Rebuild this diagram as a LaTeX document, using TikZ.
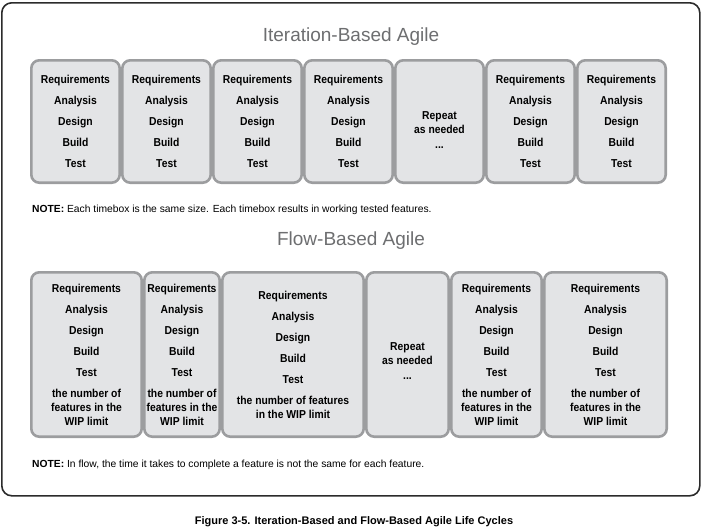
\documentclass[tikz,border=0pt]{standalone}
\usepackage{fontspec}
\setmainfont{Liberation Sans}
\newfontfamily\cond[FakeStretch=0.9]{Liberation Sans}
\definecolor{boxfill}{HTML}{E3E4E6}
\definecolor{boxline}{HTML}{9C9D9F}
\definecolor{titlegray}{HTML}{6D6E70}
\definecolor{framecol}{HTML}{2B2B2B}
\begin{document}
\begin{tikzpicture}[x=1pt,y=-1pt,
  tbox/.style={draw=boxline, fill=boxfill, line width=2.6pt, rounded corners=8pt,
    inner sep=0pt, align=center, minimum height=122.4pt,
    font=\cond\bfseries\fontsize{11.5}{14}\selectfont},
  fbox/.style={tbox, minimum height=164.4pt},
  reptxt/.style={inner sep=0pt, align=center, font=\cond\bfseries\fontsize{11.5}{14}\selectfont},
  ttl/.style={anchor=base, text=titlegray, font=\fontsize{19}{21}\selectfont},
  notetxt/.style={anchor=base west, inner sep=0pt, font=\fontsize{10.3}{12}\selectfont},
  captxt/.style={anchor=base, inner sep=0pt, font=\bfseries\fontsize{11}{13}\selectfont}]
\useasboundingbox (0,0) rectangle (702,530);
\node[draw=framecol, line width=1.6pt, rounded corners=10pt, minimum width=698pt,
  minimum height=493pt, inner sep=0pt] (frame) at (350.8,249.3) {};
\node[ttl] (t1) at (351,41) {Iteration-Based Agile};
\def\stages{Requirements\\[7pt]Analysis\\[7pt]Design\\[7pt]Build\\[7pt]Test}
\node[tbox, minimum width=88.4pt] (i1) at (75.5,121.5) {\stages};
\node[tbox, minimum width=88.4pt] (i2) at (166.5,121.5) {\stages};
\node[tbox, minimum width=88.4pt] (i3) at (257.5,121.5) {\stages};
\node[tbox, minimum width=88.4pt] (i4) at (348.5,121.5) {\stages};
\node[tbox, minimum width=88.4pt] (i5) at (439.5,121.5) {};
\node[reptxt] (i5t) at ([yshift=-9pt]i5.center) {Repeat\\as needed\\[1pt]...};
\node[tbox, minimum width=88.4pt] (i6) at (530.5,121.5) {\stages};
\node[tbox, minimum width=88.4pt] (i7) at (621.5,121.5) {\stages};
\node[notetxt] (n1) at (32,212) {\textbf{NOTE:} Each timebox is the same size. Each timebox results in working tested features.};
\node[ttl] (t2) at (351,245) {Flow-Based Agile};
\def\fstages{\stages\\[7pt]the number of\\features in the\\WIP limit}
\node[fbox, minimum width=110.4pt] (f1) at (86.5,354.5) {\fstages};
\node[fbox, minimum width=75.4pt] (f2) at (182,354.5) {\fstages};
\node[fbox, minimum width=141.4pt] (f3) at (293,354.5) {\stages\\[7pt]the number of features\\in the WIP limit};
\node[fbox, minimum width=82.4pt] (f4) at (407.5,354.5) {};
\node[reptxt] (f4t) at ([yshift=-7pt]f4.center) {Repeat\\as needed\\[1pt]...};
\node[fbox, minimum width=90.4pt] (f5) at (496.5,354.5) {\fstages};
\node[fbox, minimum width=122.4pt] (f6) at (605.5,354.5) {\fstages};
\node[notetxt] (n2) at (32,467) {\textbf{NOTE:} In flow, the time it takes to complete a feature is not the same for each feature.};
\node[captxt] (cap) at (354,524) {Figure 3-5. Iteration-Based and Flow-Based Agile Life Cycles};
\end{tikzpicture}
\end{document}
